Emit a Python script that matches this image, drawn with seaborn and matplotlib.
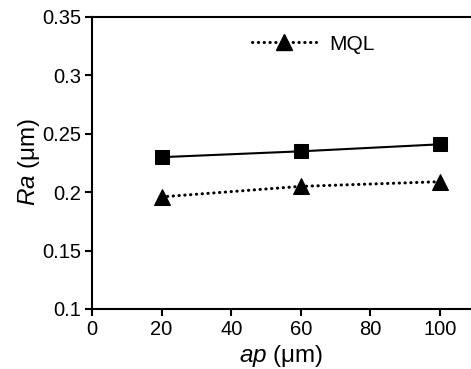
import matplotlib
matplotlib.use("Agg")
import matplotlib.pyplot as plt
import seaborn as sns
import pandas as pd
from matplotlib.lines import Line2D

ap = [20, 60, 100]
ra_dry = [0.230, 0.235, 0.241]
ra_mql = [0.196, 0.205, 0.209]
yticks = [0.1, 0.15, 0.2, 0.25, 0.3, 0.35]
ytick_labels = ["0.1", "0.15", "0.2", "0.25", "0.3", "0.35"]
xticks = [0, 20, 40, 60, 80, 100]
xtick_labels = ["0", "20", "40", "60", "80", "100"]

sns.set_theme(style="white")
plt.rcParams['font.family'] = ['Liberation Sans', 'DejaVu Sans']
plt.rcParams['mathtext.fontset'] = 'custom'
plt.rcParams['mathtext.it'] = 'Liberation Sans:italic'
plt.rcParams['mathtext.rm'] = 'Liberation Sans'

fig = plt.figure(figsize=(4.71, 3.69), dpi=100)
ax = fig.add_axes([92/471, 60/369, 379/471, 292/369])

dots = (0, (0.1, 1.8))
df = pd.DataFrame({"ap": ap, "dry": ra_dry, "mql": ra_mql})
sns.lineplot(data=df, x="ap", y="dry", ax=ax, color="black", marker="s",
             markersize=10, linewidth=1.5, markeredgecolor="black")
sns.lineplot(data=df, x="ap", y="mql", ax=ax, color="black", marker="^",
             markersize=12, linewidth=2.2, markeredgecolor="black",
             linestyle=dots, dash_capstyle="round")

ax.set_xlim(0, 379/3.48)
ax.set_ylim(0.1, 0.35)
ax.set_xticks(xticks)
ax.set_xticklabels(xtick_labels, fontsize=14.5)
ax.set_yticks(yticks)
ax.set_yticklabels(ytick_labels, fontsize=14.5)
ax.tick_params(axis="both", direction="out", length=5, width=1.5, color="black",
               labelcolor="black", pad=3, bottom=True, left=True)
for side in ["left", "bottom", "top"]:
    ax.spines[side].set_visible(True)
    ax.spines[side].set_color("black")
    ax.spines[side].set_linewidth(1.5)
ax.spines["right"].set_visible(False)

ax.set_xlabel("$\\it{ap}$ (μm)", fontsize=17.5, color="black")
ax.set_ylabel("$\\it{Ra}$ (μm)", fontsize=17.5, color="black")
ax.xaxis.set_label_coords(0.5, -(343 - 309) / 292)
ax.yaxis.set_label_coords((42 - 92) / 379, (309 - 162) / 292)

handle = Line2D([], [], color="black", marker="^", markersize=11, linewidth=2.2,
                linestyle=dots, dash_capstyle="round")
ax.legend([handle], ["MQL"], loc="center", bbox_to_anchor=(313/471, (369 - 44)/369),
          bbox_transform=fig.transFigure, frameon=False, fontsize=15,
          handlelength=3.1, handletextpad=0.6, labelcolor="black")

fig.savefig("out.png", dpi=100)
